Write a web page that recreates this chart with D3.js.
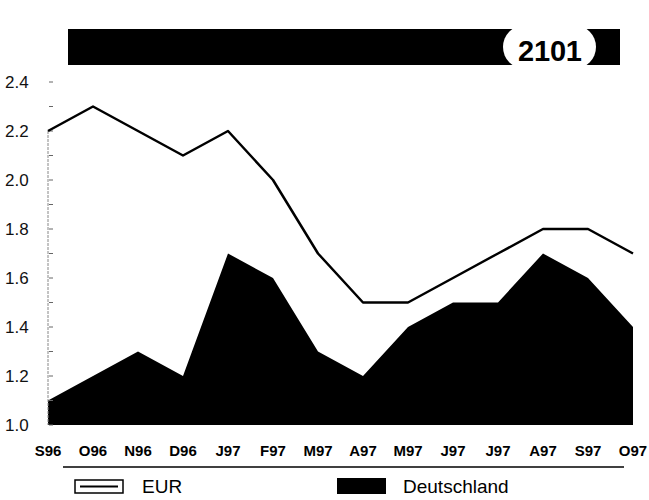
<!DOCTYPE html>
<html><head><meta charset="utf-8">
<script src="https://cdn.jsdelivr.net/npm/d3@7"></script>
<style>body{margin:0;background:#fff}svg{display:block}text{font-family:"Liberation Sans",Arial,sans-serif}</style>
</head><body><svg id="c" width="649" height="500"></svg>
<script>
const categories = ["S96","O96","N96","D96","J97","F97","M97","A97","M97","J97","J97","A97","S97","O97"];
const eur = [2.2,2.3,2.2,2.1,2.2,2.0,1.7,1.5,1.5,1.6,1.7,1.8,1.8,1.7];
const deutschland = [1.1,1.2,1.3,1.2,1.7,1.6,1.3,1.2,1.4,1.5,1.5,1.7,1.6,1.4];
const yTicks = [1.0,1.2,1.4,1.6,1.8,2.0,2.2,2.4];
const badgeLabel = "2101";
const legendLabels = ["EUR","Deutschland"];

const svg = d3.select("#c");
const x = d3.scalePoint().domain(d3.range(categories.length)).range([48,633]);
const y = d3.scaleLinear().domain([1.0,2.4]).range([425,82]);

// header bar
svg.append("rect").attr("x",68).attr("y",29).attr("width",552).attr("height",36).attr("fill","#000");
svg.append("rect").attr("x",503).attr("y",25).attr("width",93).attr("height",44).attr("rx",22).attr("ry",22).attr("fill","#fff");
svg.append("text").attr("x",550).attr("y",61).attr("text-anchor","middle").attr("font-size",29).attr("font-weight","bold").attr("textLength",64).text(badgeLabel);

// area
const area = d3.area().x((d,i)=>x(i)).y0(y(1.0)).y1(d=>y(d));
svg.append("path").datum(deutschland).attr("d",area).attr("fill","#000");

// y axis
svg.append("line").attr("x1",48).attr("x2",48).attr("y1",y(2.2)).attr("y2",y(1.0)).attr("stroke","#888").attr("stroke-width",1).attr("stroke-dasharray","3,1");
const minor = d3.range(1.0,2.41,0.1);
svg.selectAll(".mt").data(minor).join("line").attr("x1",49).attr("x2",53).attr("y1",d=>y(d)).attr("y2",d=>y(d)).attr("stroke","#666").attr("stroke-width",1);
svg.selectAll(".yl").data(yTicks).join("text").attr("x",5).attr("y",d=>y(d)+6).attr("font-size",17).attr("fill","#111").text(d=>d.toFixed(1));

// line
const line = d3.line().x((d,i)=>x(i)).y(d=>y(d));
svg.append("path").datum(eur).attr("d",line).attr("fill","none").attr("stroke","#000").attr("stroke-width",2.5).attr("stroke-linejoin","round");

// x labels
svg.selectAll(".xl").data(categories).join("text").attr("x",(d,i)=>x(i)).attr("y",456).attr("text-anchor","middle").attr("font-size",15).attr("font-weight","bold").text(d=>d);

// bottom rule
svg.append("line").attr("x1",63).attr("x2",624).attr("y1",467).attr("y2",467).attr("stroke","#000").attr("stroke-width",1.5);

// legend
svg.append("rect").attr("x",75).attr("y",480).attr("width",48).attr("height",13).attr("fill","none").attr("stroke","#000").attr("stroke-width",1.5);
svg.append("line").attr("x1",80).attr("x2",118).attr("y1",486.5).attr("y2",486.5).attr("stroke","#000").attr("stroke-width",2);
svg.append("text").attr("x",142).attr("y",493).attr("font-size",19).text(legendLabels[0]);
svg.append("rect").attr("x",337).attr("y",478).attr("width",49).attr("height",16).attr("fill","#000");
svg.append("text").attr("x",403).attr("y",493).attr("font-size",19).text(legendLabels[1]);
</script></body></html>
